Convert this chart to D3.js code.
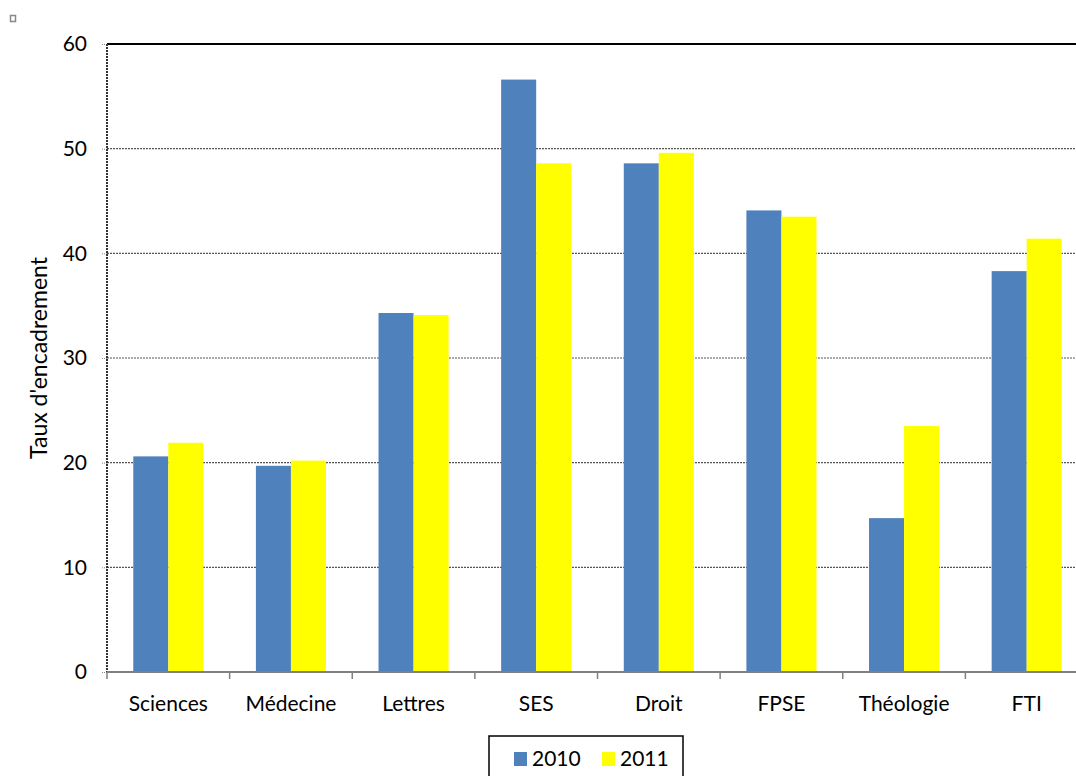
<!DOCTYPE html>
<html>
<head>
<meta charset="utf-8">
<script src="https://cdn.jsdelivr.net/npm/d3@7"></script>
<style>
  html, body { margin: 0; padding: 0; background: #fff; }
  svg { display: block; }
  text { font-family: Lato, "Open Sans", sans-serif; fill: #000; }
</style>
</head>
<body>
<script>
// ---- data ----
const categories = ["Sciences", "Médecine", "Lettres", "SES", "Droit", "FPSE", "Théologie", "FTI"];
const years = ["2010", "2011"];
const values2010 = [20.6, 19.7, 34.3, 56.6, 48.6, 44.1, 14.7, 38.3];
const values2011 = [21.9, 20.2, 34.1, 48.6, 49.6, 43.5, 23.5, 41.4];
const yTicks = [0, 10, 20, 30, 40, 50, 60];
const yTitle = "Taux d'encadrement";
const colors = ["#4F81BD", "#FFFF00"];

const W = 1076, H = 776;
const plot = { left: 107, top: 44, bottom: 672, right: 1088 };

const svg = d3.select("body").append("svg").attr("width", W).attr("height", H);

const x0 = d3.scaleBand().domain(categories).range([plot.left, plot.right]).padding(0);
const x1 = d3.scaleBand().domain(years).range([0, x0.bandwidth()]).paddingInner(0).paddingOuter(0.75);
const y = d3.scaleLinear().domain([0, 60]).range([plot.bottom, plot.top]);

// small marker top-left
svg.append("rect").attr("x", 10.5).attr("y", 15.5).attr("width", 5).attr("height", 6)
  .attr("fill", "none").attr("stroke", "#888").attr("stroke-width", 1.5);

// gridlines
svg.append("g").selectAll("line").data(yTicks.filter(d => d > 0 && d < 60)).join("line")
  .attr("x1", plot.left).attr("x2", W)
  .attr("y1", d => y(d)).attr("y2", d => y(d))
  .attr("stroke", "#555").attr("stroke-width", 1.2).attr("stroke-dasharray", "2,1");

// top border
svg.append("line").attr("x1", plot.left).attr("x2", W).attr("y1", y(60)).attr("y2", y(60))
  .attr("stroke", "#000").attr("stroke-width", 2);

// bars
const data = categories.map((c, i) => ({ cat: c, vals: [values2010[i], values2011[i]] }));
const groups = svg.append("g").selectAll("g").data(data).join("g")
  .attr("transform", d => `translate(${x0(d.cat)},0)`);
groups.selectAll("rect").data(d => d.vals.map((v, j) => ({ year: years[j], v, j }))).join("rect")
  .attr("x", d => x1(d.year)).attr("width", x1.bandwidth())
  .attr("y", d => y(d.v)).attr("height", d => y(0) - y(d.v))
  .attr("fill", d => colors[d.j]);

// y axis
const yAxis = d3.axisLeft(y).tickValues(yTicks).tickSize(6).tickPadding(14);
const ya = svg.append("g").attr("transform", `translate(${plot.left},0)`).call(yAxis);
ya.select(".domain").remove();
ya.selectAll(".tick line").attr("stroke", "#888").attr("stroke-dasharray", "1,1");
ya.selectAll(".tick text").attr("font-size", 21).attr("font-family", "Lato, sans-serif").attr("fill", "#000");
svg.append("line").attr("x1", plot.left).attr("x2", plot.left).attr("y1", plot.top).attr("y2", plot.bottom)
  .attr("stroke", "#333").attr("stroke-width", 2).attr("stroke-dasharray", "2,1");

// x axis
const xAxis = d3.axisBottom(x0).tickSize(0).tickPadding(24);
const xa = svg.append("g").attr("transform", `translate(0,${plot.bottom})`).call(xAxis);
xa.select(".domain").remove();
xa.selectAll(".tick text").attr("font-size", 21).attr("font-family", "Lato, sans-serif").attr("fill", "#000");
svg.append("line").attr("x1", plot.left).attr("x2", W).attr("y1", plot.bottom).attr("y2", plot.bottom)
  .attr("stroke", "#808080").attr("stroke-width", 2);
const boundaries = categories.map(c => x0(c));
svg.append("g").selectAll("line").data(boundaries).join("line")
  .attr("x1", d => d).attr("x2", d => d).attr("y1", plot.bottom).attr("y2", plot.bottom + 7)
  .attr("stroke", "#808080").attr("stroke-width", 1.5);

// y title
svg.append("text")
  .attr("transform", `translate(47,${(plot.top + plot.bottom) / 2}) rotate(-90)`)
  .attr("text-anchor", "middle").attr("font-size", 23).text(yTitle);

// legend
const lg = svg.append("g").attr("transform", "translate(489,736)");
lg.append("rect").attr("x", 0).attr("y", 0).attr("width", 194).attr("height", 50)
  .attr("fill", "#fff").attr("stroke", "#000").attr("stroke-width", 1.5);
const items = [{ x: 25, label: years[0], c: colors[0] }, { x: 113, label: years[1], c: colors[1] }];
items.forEach(it => {
  lg.append("rect").attr("x", it.x).attr("y", 16).attr("width", 13).attr("height", 14).attr("fill", it.c);
  lg.append("text").attr("x", it.x + 18).attr("y", 23).attr("dy", "0.35em")
    .attr("font-size", 21).text(it.label);
});
</script>
</body>
</html>
